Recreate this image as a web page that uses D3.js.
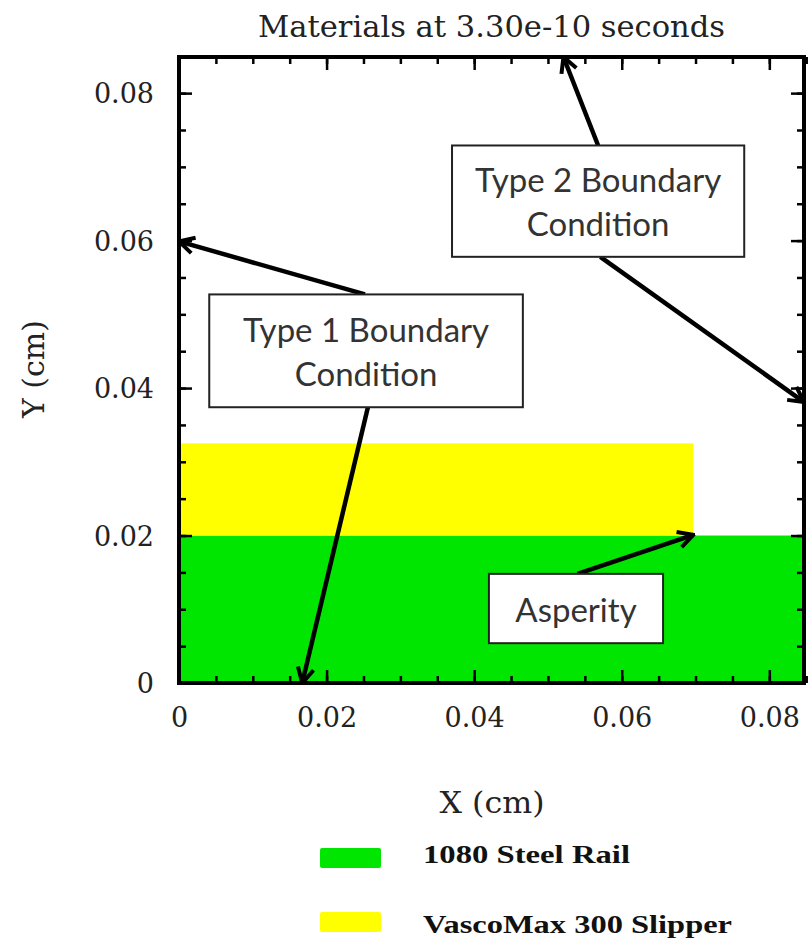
<!DOCTYPE html>
<html>
<head>
<meta charset="utf-8">
<script src="https://cdn.jsdelivr.net/npm/d3@7"></script>
<style>
  html, body { margin: 0; padding: 0; background: #fff; }
  svg { display: block; }
  .frame { fill: none; stroke: #000; stroke-width: 4; }
  .tick line { stroke: #000; stroke-width: 2.5; }
  .tick text { font-family: "DejaVu Serif", serif; font-size: 27px; fill: #222; }
  .axis path.domain { display: none; }
  .note-box { fill: #fff; stroke: #222; stroke-width: 2; }
  .note-text { font-family: Lato, "Open Sans", sans-serif; font-size: 33px; fill: #333; }
  .arrow { stroke: #000; stroke-width: 4.5; fill: none; }
</style>
</head>
<body>
<svg id="chart" width="809" height="951"></svg>
<script>
// material regions: [x0, x1, y0, y1] in cm
const materialNames = ["1080 Steel Rail", "VascoMax 300 Slipper"];
const materialColors = ["#00e600", "#ffff00"];
const materialX0 = [0, 0];
const materialX1 = [0.0847, 0.0697];
const materialY0 = [0, 0.02];
const materialY1 = [0.02, 0.0325];

const majorTicks = [0, 0.02, 0.04, 0.06, 0.08];
const minorTicks = d3.range(0, 0.0851, 0.005);
const xMax = 0.0847;
const yMax = 0.0849;

// annotation boxes (cm): label lines, x0, x1, y top, y bottom
const noteLines = [["Type 1 Boundary", "Condition"], ["Type 2 Boundary", "Condition"], ["Asperity"]];
const noteX0 = [0.0041, 0.0370, 0.0420];
const noteX1 = [0.0466, 0.0766, 0.0656];
const noteYTop = [0.0527, 0.0729, 0.0148];
const noteYBot = [0.0374, 0.0578, 0.0054];

// arrows (cm): tail -> tip
const arrowFromX = [0.0252, 0.0256, 0.0568, 0.0571, 0.0540];
const arrowFromY = [0.0527, 0.0374, 0.0729, 0.0578, 0.0148];
const arrowToX = [0.0, 0.0167, 0.0521, 0.0847, 0.0697];
const arrowToY = [0.0599, 0.0, 0.0849, 0.0381, 0.0201];

const svg = d3.select("#chart");
const margin = { left: 179, top: 57 };
const plotW = 625;
const plotH = 626;

const x = d3.scaleLinear().domain([0, xMax]).range([margin.left, margin.left + plotW]);
const y = d3.scaleLinear().domain([0, yMax]).range([margin.top + plotH, margin.top]);
const fmt = (d) => (d === 0 ? "0" : d3.format(".2f")(d));

// title
svg.append("text")
  .attr("x", margin.left + plotW / 2)
  .attr("y", 37)
  .attr("text-anchor", "middle")
  .attr("textLength", 467)
  .attr("lengthAdjust", "spacingAndGlyphs")
  .style("font-family", "'DejaVu Serif', serif")
  .style("font-size", "30px")
  .style("fill", "#222")
  .text("Materials at 3.30e-10 seconds");

// material rectangles
svg.append("g")
  .selectAll("rect")
  .data(materialNames)
  .join("rect")
  .attr("x", (d, i) => x(materialX0[i]))
  .attr("width", (d, i) => x(materialX1[i]) - x(materialX0[i]))
  .attr("y", (d, i) => y(materialY1[i]))
  .attr("height", (d, i) => y(materialY0[i]) - y(materialY1[i]))
  .attr("fill", (d, i) => materialColors[i]);

// axes: major ticks with labels, minor ticks inward, mirrored on top/right
const bottom = margin.top + plotH;
const right = margin.left + plotW;

svg.append("g").attr("class", "axis").attr("transform", `translate(0,${bottom})`)
  .call(d3.axisBottom(x).tickValues(majorTicks).tickFormat(fmt).tickSizeInner(-13).tickSizeOuter(0).tickPadding(24));
svg.append("g").attr("class", "axis").attr("transform", `translate(0,${bottom})`)
  .call(d3.axisBottom(x).tickValues(minorTicks).tickFormat("").tickSizeInner(-7).tickSizeOuter(0));
svg.append("g").attr("class", "axis").attr("transform", `translate(0,${margin.top})`)
  .call(d3.axisTop(x).tickValues(majorTicks).tickFormat("").tickSizeInner(-13).tickSizeOuter(0));
svg.append("g").attr("class", "axis").attr("transform", `translate(0,${margin.top})`)
  .call(d3.axisTop(x).tickValues(minorTicks).tickFormat("").tickSizeInner(-7).tickSizeOuter(0));

svg.append("g").attr("class", "axis").attr("transform", `translate(${margin.left},0)`)
  .call(d3.axisLeft(y).tickValues(majorTicks).tickFormat(fmt).tickSizeInner(-13).tickSizeOuter(0).tickPadding(25));
svg.append("g").attr("class", "axis").attr("transform", `translate(${margin.left},0)`)
  .call(d3.axisLeft(y).tickValues(minorTicks).tickFormat("").tickSizeInner(-7).tickSizeOuter(0));
svg.append("g").attr("class", "axis").attr("transform", `translate(${right},0)`)
  .call(d3.axisRight(y).tickValues(majorTicks).tickFormat("").tickSizeInner(-13).tickSizeOuter(0));
svg.append("g").attr("class", "axis").attr("transform", `translate(${right},0)`)
  .call(d3.axisRight(y).tickValues(minorTicks).tickFormat("").tickSizeInner(-7).tickSizeOuter(0));

svg.selectAll(".axis .tick text").attr("dy", null);
svg.selectAll(".axis .tick text").each(function () {
  const t = d3.select(this);
  if (t.attr("x") === null || t.attr("x") === undefined) {
    t.attr("dominant-baseline", "hanging");
  } else {
    t.attr("dominant-baseline", "central");
  }
});

// frame
svg.append("rect")
  .attr("class", "frame")
  .attr("x", margin.left)
  .attr("y", margin.top)
  .attr("width", plotW)
  .attr("height", plotH);

// axis labels
svg.append("text")
  .attr("x", 492)
  .attr("y", 813)
  .attr("text-anchor", "middle")
  .attr("textLength", 105)
  .attr("lengthAdjust", "spacingAndGlyphs")
  .style("font-family", "'DejaVu Serif', serif")
  .style("font-size", "29px")
  .style("fill", "#222")
  .text("X (cm)");

svg.append("text")
  .attr("transform", "translate(44,369) rotate(-90)")
  .attr("text-anchor", "middle")
  .attr("textLength", 98)
  .attr("lengthAdjust", "spacingAndGlyphs")
  .style("font-family", "'DejaVu Serif', serif")
  .style("font-size", "29px")
  .style("fill", "#222")
  .text("Y (cm)");

// arrow marker
svg.append("defs")
  .append("marker")
  .attr("id", "head")
  .attr("viewBox", "0 0 20 20")
  .attr("refX", 18)
  .attr("refY", 10)
  .attr("markerWidth", 20)
  .attr("markerHeight", 20)
  .attr("markerUnits", "userSpaceOnUse")
  .attr("orient", "auto")
  .append("path")
  .attr("d", "M3,2 L18,10 L3,18")
  .attr("fill", "none")
  .attr("stroke", "#000")
  .attr("stroke-width", 4);

svg.append("g")
  .selectAll("line")
  .data(arrowFromX)
  .join("line")
  .attr("class", "arrow")
  .attr("x1", (d, i) => x(arrowFromX[i]))
  .attr("y1", (d, i) => y(arrowFromY[i]))
  .attr("x2", (d, i) => x(arrowToX[i]))
  .attr("y2", (d, i) => y(arrowToY[i]))
  .attr("marker-end", "url(#head)");

// annotation boxes
const notes = svg.append("g")
  .selectAll("g")
  .data(noteLines)
  .join("g");

notes.append("rect")
  .attr("class", "note-box")
  .attr("x", (d, i) => x(noteX0[i]))
  .attr("y", (d, i) => y(noteYTop[i]))
  .attr("width", (d, i) => x(noteX1[i]) - x(noteX0[i]))
  .attr("height", (d, i) => y(noteYBot[i]) - y(noteYTop[i]));

notes.each(function (lines, i) {
  const cx = (x(noteX0[i]) + x(noteX1[i])) / 2;
  const cy = (y(noteYTop[i]) + y(noteYBot[i])) / 2;
  const lineH = 44;
  lines.forEach((line, k) => {
    d3.select(this).append("text")
      .attr("class", "note-text")
      .attr("x", cx)
      .attr("y", cy + (k - (lines.length - 1) / 2) * lineH)
      .attr("text-anchor", "middle")
      .attr("dominant-baseline", "central")
      .text(line);
  });
});

// legend
const legendWidths = [207, 309];
const legend = svg.append("g")
  .selectAll("g")
  .data(materialNames)
  .join("g")
  .attr("transform", (d, i) => `translate(320,${848 + i * 64})`);

legend.append("rect")
  .attr("width", 61)
  .attr("height", 20)
  .attr("rx", 2)
  .attr("fill", (d, i) => materialColors[i]);

legend.append("text")
  .attr("x", 103)
  .attr("y", (d, i) => 15 + i * 6)
  .attr("textLength", (d, i) => legendWidths[i])
  .attr("lengthAdjust", "spacingAndGlyphs")
  .style("font-family", "'Liberation Serif', serif")
  .style("font-weight", "bold")
  .style("font-size", "26px")
  .style("fill", "#111")
  .text((d) => d);
</script>
</body>
</html>
